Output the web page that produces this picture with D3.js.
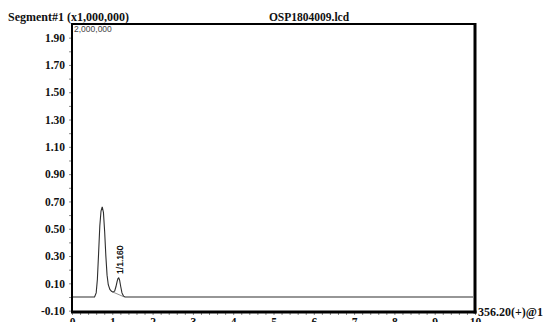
<!DOCTYPE html>
<html>
<head>
<meta charset="utf-8">
<script src="https://cdn.jsdelivr.net/npm/d3@7"></script>
<style>
  html, body { margin: 0; padding: 0; background: #fff; }
  svg { display: block; }
</style>
</head>
<body>
<svg id="chart" width="547" height="322"></svg>
<script>
// Chromatogram trace: retention time (min) and intensity (x1,000,000)
const traceTime = [0.00, 0.30, 0.56, 0.60, 0.63, 0.66, 0.69, 0.72, 0.75, 0.78, 0.81, 0.84, 0.87, 0.90, 0.94, 0.98, 1.02, 1.06, 1.09, 1.12, 1.14, 1.16, 1.18, 1.21, 1.24, 1.28, 1.32, 2.00, 3.00, 4.00, 5.00, 6.00, 7.00, 8.00, 9.00, 9.95];
const traceValue = [0.000, 0.000, 0.000, 0.030, 0.130, 0.320, 0.520, 0.630, 0.660, 0.620, 0.480, 0.300, 0.160, 0.090, 0.055, 0.042, 0.036, 0.045, 0.075, 0.115, 0.135, 0.140, 0.125, 0.075, 0.030, 0.005, 0.000, 0.000, 0.000, 0.000, 0.000, 0.000, 0.000, 0.000, 0.000, 0.000];

// Integration baseline under peak 1
const peakBaseTime = [1.00, 1.30];
const peakBaseValue = [0.038, 0.000];

// Peak annotation: id / retention time
const peakIds = ["1"];
const peakTimes = [1.160];
const peakHeights = [0.140];

// Axis ticks
const yTickLabels = [-0.10, 0.10, 0.30, 0.50, 0.70, 0.90, 1.10, 1.30, 1.50, 1.70, 1.90];
const xTickLabels = [0, 1, 2, 3, 4, 5, 6, 7, 8, 9, 10];

const titleLeft = "Segment#1 (x1,000,000)";
const titleCenter = "OSP1804009.lcd";
const fullScaleText = "2,000,000";
const channelText = "356.20(+)@1";

const svg = d3.select("#chart");
const L = 72, T = 24, R = 475, B = 312;

const x = d3.scaleLinear().domain([0, 10]).range([L, R]);
const y = d3.scaleLinear().domain([-0.11, 2.0]).range([B, T]);

const serif = "'Liberation Serif', 'Times New Roman', serif";
const sans = "'Liberation Sans', Arial, sans-serif";

// Y axis: minor ticks every 0.1, labels every 0.2
const yAxis = d3.axisLeft(y)
  .tickValues(d3.range(-0.1, 1.951, 0.1))
  .tickSize(3)
  .tickFormat(d => {
    const r = Math.round(d * 100) / 100;
    return yTickLabels.some(v => Math.abs(v - r) < 1e-6) ? r.toFixed(2) : "";
  });
const gy = svg.append("g").attr("transform", `translate(${L},0)`).call(yAxis);
gy.select(".domain").remove();
gy.selectAll(".tick line").attr("stroke", "#888");
gy.selectAll(".tick text")
  .attr("x", -7)
  .attr("font-family", serif).attr("font-weight", "bold").attr("font-size", 11.5)
  .attr("fill", "#111");

// X axis: minor ticks every 0.2, labels on integers (partly below the page edge)
const xAxis = d3.axisBottom(x)
  .tickValues(d3.range(0, 10.01, 0.2))
  .tickSize(3)
  .tickFormat(d => {
    const r = Math.round(d * 10) / 10;
    return xTickLabels.includes(r) ? String(r) : "";
  });
const gx = svg.append("g").attr("transform", `translate(0,${B})`).call(xAxis);
gx.select(".domain").remove();
gx.selectAll(".tick line").attr("stroke", "#888");
gx.selectAll(".tick text")
  .attr("y", 6)
  .attr("font-family", serif).attr("font-weight", "bold").attr("font-size", 11.5)
  .attr("fill", "#111");

// Trace
const line = d3.line().x((d, i) => x(traceTime[i])).y(d => y(d));
svg.append("path")
  .datum(traceValue)
  .attr("d", line)
  .attr("fill", "none")
  .attr("stroke", "#2e2e2e")
  .attr("stroke-width", 1.1);

// Integration baseline
svg.append("path")
  .datum(peakBaseValue)
  .attr("d", d3.line().x((d, i) => x(peakBaseTime[i])).y(d => y(d)))
  .attr("fill", "none")
  .attr("stroke", "#777")
  .attr("stroke-width", 0.8);

// Peak labels, rotated above the apex
peakIds.forEach((id, i) => {
  const px = x(peakTimes[i]) + 4.5, py = y(peakHeights[i]) - 4;
  svg.append("text")
    .attr("transform", `translate(${px},${py}) rotate(-90)`)
    .attr("font-family", sans).attr("font-size", 8.5)
    .attr("fill", "#000")
    .attr("stroke", "#000").attr("stroke-width", 0.25)
    .text(`${id}/${peakTimes[i].toFixed(3)}`);
});

// Frame
const frame = svg.append("g").attr("stroke", "#000").attr("fill", "none");
frame.append("line").attr("x1", L).attr("x2", R + 1).attr("y1", T).attr("y2", T).attr("stroke-width", 2);
frame.append("line").attr("x1", L).attr("x2", L).attr("y1", T - 1).attr("y2", B + 1).attr("stroke-width", 2);
frame.append("line").attr("x1", R).attr("x2", R).attr("y1", T - 1).attr("y2", B + 1.5).attr("stroke-width", 3);
frame.append("line").attr("x1", L - 1).attr("x2", R + 1.5).attr("y1", B).attr("y2", B).attr("stroke-width", 3);

// Titles and annotations
svg.append("text").attr("x", 8).attr("y", 21)
  .attr("font-family", serif).attr("font-weight", "bold").attr("font-size", 12)
  .attr("fill", "#111").text(titleLeft);
svg.append("text").attr("x", 309).attr("y", 21).attr("text-anchor", "middle")
  .attr("font-family", serif).attr("font-weight", "bold").attr("font-size", 11.5)
  .attr("fill", "#111").text(titleCenter);
svg.append("text").attr("x", 74).attr("y", 32)
  .attr("font-family", sans).attr("font-size", 8.5)
  .attr("fill", "#444").text(fullScaleText);
svg.append("text").attr("x", 478).attr("y", 316)
  .attr("font-family", serif).attr("font-weight", "bold").attr("font-size", 12)
  .attr("fill", "#111").text(channelText);
</script>
</body>
</html>
